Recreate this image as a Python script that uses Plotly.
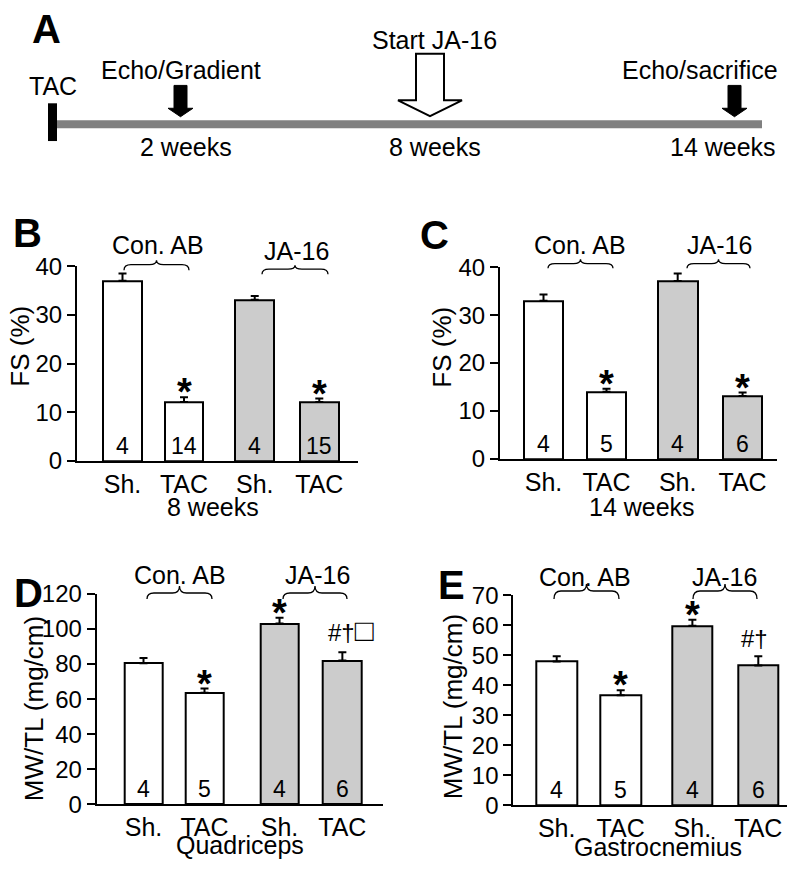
import plotly.graph_objects as go

W, H = 800, 871
FONT = "Liberation Sans, Arial, sans-serif"

# ---------------- data ----------------
groups = ["Sh.", "TAC", "Sh.", "TAC"]
fill_colors = ["white", "white", "#cccccc", "#cccccc"]
treatments = ["Con. AB", "JA-16"]

fs8_mean = [37.0, 12.1, 33.1, 12.1]
fs8_err = [1.5, 1.0, 0.8, 0.7]
fs8_n = [4, 14, 4, 15]
fs8_marks = ["", "*", "", "*"]

fs14_mean = [33.0, 14.0, 37.1, 13.1]
fs14_err = [1.3, 0.65, 1.6, 0.75]
fs14_n = [4, 5, 4, 6]
fs14_marks = ["", "*", "", "*"]

quad_mean = [80.5, 63.7, 103.1, 82.0]
quad_err = [3.0, 2.3, 3.4, 4.7]
quad_n = [4, 5, 4, 6]
quad_marks = ["", "*", "*", "#†□"]

gastro_mean = [47.9, 36.7, 59.8, 46.6]
gastro_err = [1.8, 1.6, 2.0, 3.1]
gastro_n = [4, 5, 4, 6]
gastro_marks = ["", "*", "*", "#†"]

timeline_events = ["TAC", "Echo/Gradient", "Start JA-16", "Echo/sacrifice"]
timeline_weeks = ["2 weeks", "8 weeks", "14 weeks"]

# ---------------- layout helpers ----------------
# the photographed page maps paper space onto rows ~10..860 of the picture
Y_OFF, Y_SPAN = 10.1, 849.7


def PX(x):
    return x / W


def PY(y):
    return 1 - (y - Y_OFF) / Y_SPAN


def path(points, close=True):
    s = "M " + " L ".join(f"{PX(x):.5f},{PY(y):.5f}" for x, y in points)
    return s + (" Z" if close else "")


def brace(x1, x2, yp, yh, ye):
    xm = (x1 + x2) / 2
    r = 7
    pts = [
        f"M {PX(x1):.5f},{PY(ye):.5f}",
        f"Q {PX(x1):.5f},{PY(yh):.5f} {PX(x1 + r):.5f},{PY(yh):.5f}",
        f"L {PX(xm - r):.5f},{PY(yh):.5f}",
        f"Q {PX(xm):.5f},{PY(yh):.5f} {PX(xm):.5f},{PY(yp):.5f}",
        f"Q {PX(xm):.5f},{PY(yh):.5f} {PX(xm + r):.5f},{PY(yh):.5f}",
        f"L {PX(x2 - r):.5f},{PY(yh):.5f}",
        f"Q {PX(x2):.5f},{PY(yh):.5f} {PX(x2):.5f},{PY(ye):.5f}",
    ]
    return " ".join(pts)


panels = [
    dict(letter="B", letter_xy=(27, 231), mean=fs8_mean, err=fs8_err, n=fs8_n, marks=fs8_marks, mark_dx=0,
         ymax=40, dtick=10, ytitle="FS (%)", ytitle_xy=(20, 345), xtitle="8 weeks", xtitle_xy=(213, 506),
         xpx=(77, 358), ypx=(460, 264), c0=122.5, unit=61.5, pos=[0, 1, 2.15, 3.2],
         braces=[(124, 189, 258, 262.5, 268), (262, 328, 263, 267, 272)],
         treat_xy=[(158, 243), (296, 249)]),
    dict(letter="C", letter_xy=(435, 233), mean=fs14_mean, err=fs14_err, n=fs14_n, marks=fs14_marks, mark_dx=0,
         ymax=40, dtick=10, ytitle="FS (%)", ytitle_xy=(442, 346), xtitle="14 weeks", xtitle_xy=(642, 506),
         xpx=(500, 777), ypx=(458, 265), c0=543.5, unit=63, pos=[0, 1, 2.13, 3.16],
         braces=[(548, 613, 257, 261.5, 266), (687, 750, 257, 261.5, 266)],
         treat_xy=[(580, 243), (719, 243)]),
    dict(letter="D", letter_xy=(29, 593), mean=quad_mean, err=quad_err, n=quad_n, marks=quad_marks, mark_dx=9,
         ymax=120, dtick=20, ytitle="MW/TL (mg/cm)", ytitle_xy=(34, 710), xtitle="Quadriceps", xtitle_xy=(240, 847),
         xpx=(96.7, 383), ypx=(805.7, 594), c0=143.5, unit=61, pos=[0, 1, 2.23, 3.26],
         braces=[(147, 212, 586, 593, 599), (283, 347, 586, 593, 599)],
         treat_xy=[(180, 575), (317, 575)]),
    dict(letter="E", letter_xy=(452, 585), mean=gastro_mean, err=gastro_err, n=gastro_n, marks=gastro_marks, mark_dx=-4,
         ymax=70, dtick=10, ytitle="MW/TL (mg/cm)", ytitle_xy=(453, 708), xtitle="Gastrocnemius", xtitle_xy=(658, 849),
         xpx=(513.3, 786.7), ypx=(806.7, 595.3), c0=556.7, unit=64, pos=[0, 1, 2.12, 3.15],
         braces=[(554, 619, 584, 591, 599), (693, 757, 584, 591, 599)],
         treat_xy=[(585, 577), (724, 577)]),
]

fig = go.Figure()
annotations = []
shapes = []
layout_axes = {}


def ann(x, y, text, size=25, xref="paper", yref="paper", **kw):
    d = dict(x=x, y=y, xref=xref, yref=yref, text=text, showarrow=False,
             xanchor="center", yanchor="middle",
             font=dict(family=FONT, size=size, color="black"))
    d.update(kw)
    annotations.append(d)


for i, p in enumerate(panels, start=1):
    xa = "x" if i == 1 else f"x{i}"
    ya = "y" if i == 1 else f"y{i}"
    xk = "xaxis" if i == 1 else f"xaxis{i}"
    yk = "yaxis" if i == 1 else f"yaxis{i}"
    x0, x1 = p["xpx"]
    yb, yt = p["ypx"]
    layout_axes[xk] = dict(
        domain=[PX(x0), PX(x1)], range=[(x0 - p["c0"]) / p["unit"], (x1 - p["c0"]) / p["unit"]],
        anchor=ya, showline=True, linecolor="black", linewidth=2, ticks="", showgrid=False,
        zeroline=False, tickvals=p["pos"], ticktext=groups, ticklabelstandoff=0,
        tickfont=dict(family=FONT, size=25, color="black"), fixedrange=True)
    layout_axes[yk] = dict(
        domain=[PY(yb), PY(yt)], range=[0, p["ymax"]], anchor=xa, showline=True, linecolor="black",
        linewidth=2, ticks="outside", ticklen=8, tickwidth=2, tickcolor="black", dtick=p["dtick"],
        tick0=0, showgrid=False, zeroline=False, tickfont=dict(family=FONT, size=24, color="black"),
        fixedrange=True)
    fig.add_trace(go.Bar(
        x=p["pos"], y=p["mean"], width=0.63, xaxis=xa, yaxis=ya,
        marker=dict(color=fill_colors, line=dict(color="black", width=2)),
        error_y=dict(type="data", symmetric=False, array=p["err"], arrayminus=[0] * 4,
                     color="black", thickness=2, width=4),
        hoverinfo="skip"))
    for xp, m, e, n, mk in zip(p["pos"], p["mean"], p["err"], p["n"], p["marks"]):
        ann(xp, 0, str(n), size=23, xref=xa, yref=ya, yanchor="bottom", yshift=0)
        if mk == "*":
            ann(xp, m + e, "<b>*</b>", size=38, xref=xa, yref=ya, yanchor="bottom", yshift=-18)
        elif mk:
            txt = mk.replace("□", "<span style=\"font-size:31px\">□</span>")
            ann(xp, m + e, txt, size=24, xref=xa, yref=ya, yanchor="bottom", yshift=2,
                xshift=p["mark_dx"])
    ann(PX(p["letter_xy"][0]), PY(p["letter_xy"][1]), f"<b>{p['letter']}</b>", size=40)
    ann(PX(p["ytitle_xy"][0]), PY(p["ytitle_xy"][1]), p["ytitle"], size=26, textangle=-90)
    ann(PX(p["xtitle_xy"][0]), PY(p["xtitle_xy"][1]), p["xtitle"], size=25)
    for (tx, ty), tname, br in zip(p["treat_xy"], treatments, p["braces"]):
        ann(PX(tx), PY(ty), tname, size=25)
        shapes.append(dict(type="path", xref="paper", yref="paper", path=brace(*br),
                           line=dict(color="black", width=1.3)))

# ---------------- panel A: timeline schematic ----------------
ann(PX(46), PY(25), "<b>A</b>", size=40)
shapes.append(dict(type="rect", xref="paper", yref="paper", x0=PX(57), x1=PX(762), y0=PY(125), y1=PY(117),
                   fillcolor="#808080", line=dict(width=0)))
shapes.append(dict(type="rect", xref="paper", yref="paper", x0=PX(48), x1=PX(57), y0=PY(138), y1=PY(100),
                   fillcolor="black", line=dict(width=0)))


def solid_arrow(cx):
    return path([(cx - 6.5, 82), (cx + 6.5, 82), (cx + 6.5, 105), (cx + 12.5, 105), (cx, 113.5),
                 (cx - 12.5, 105), (cx - 6.5, 105)])


for cx in (180.5, 734.5):
    shapes.append(dict(type="path", xref="paper", yref="paper", path=solid_arrow(cx),
                       fillcolor="black", line=dict(color="black", width=1)))
hc = 430
shapes.append(dict(type="path", xref="paper", yref="paper",
                   path=path([(hc - 14, 50), (hc + 14, 50), (hc + 14, 97), (hc + 32, 97), (hc, 113),
                              (hc - 32, 97), (hc - 14, 97)]),
                   fillcolor="white", line=dict(color="black", width=2)))

event_xy = [(53, 83), (181, 66), (434, 36), (700, 66)]
for (ex, ey), t in zip(event_xy, timeline_events):
    ann(PX(ex), PY(ey), t, size=25)
week_xy = [(186, 144), (434.5, 144), (723, 144)]
for (wx, wy), t in zip(week_xy, timeline_weeks):
    ann(PX(wx), PY(wy), t, size=25)

fig.update_layout(
    width=W, height=H, margin=dict(l=0, r=0, t=0, b=0), paper_bgcolor="white", plot_bgcolor="white",
    showlegend=False, annotations=annotations, shapes=shapes, bargap=0, **layout_axes)

fig.write_html("out.html", config={"displayModeBar": False},
               post_script="document.body.style.margin='0';document.body.style.overflow='hidden';")
